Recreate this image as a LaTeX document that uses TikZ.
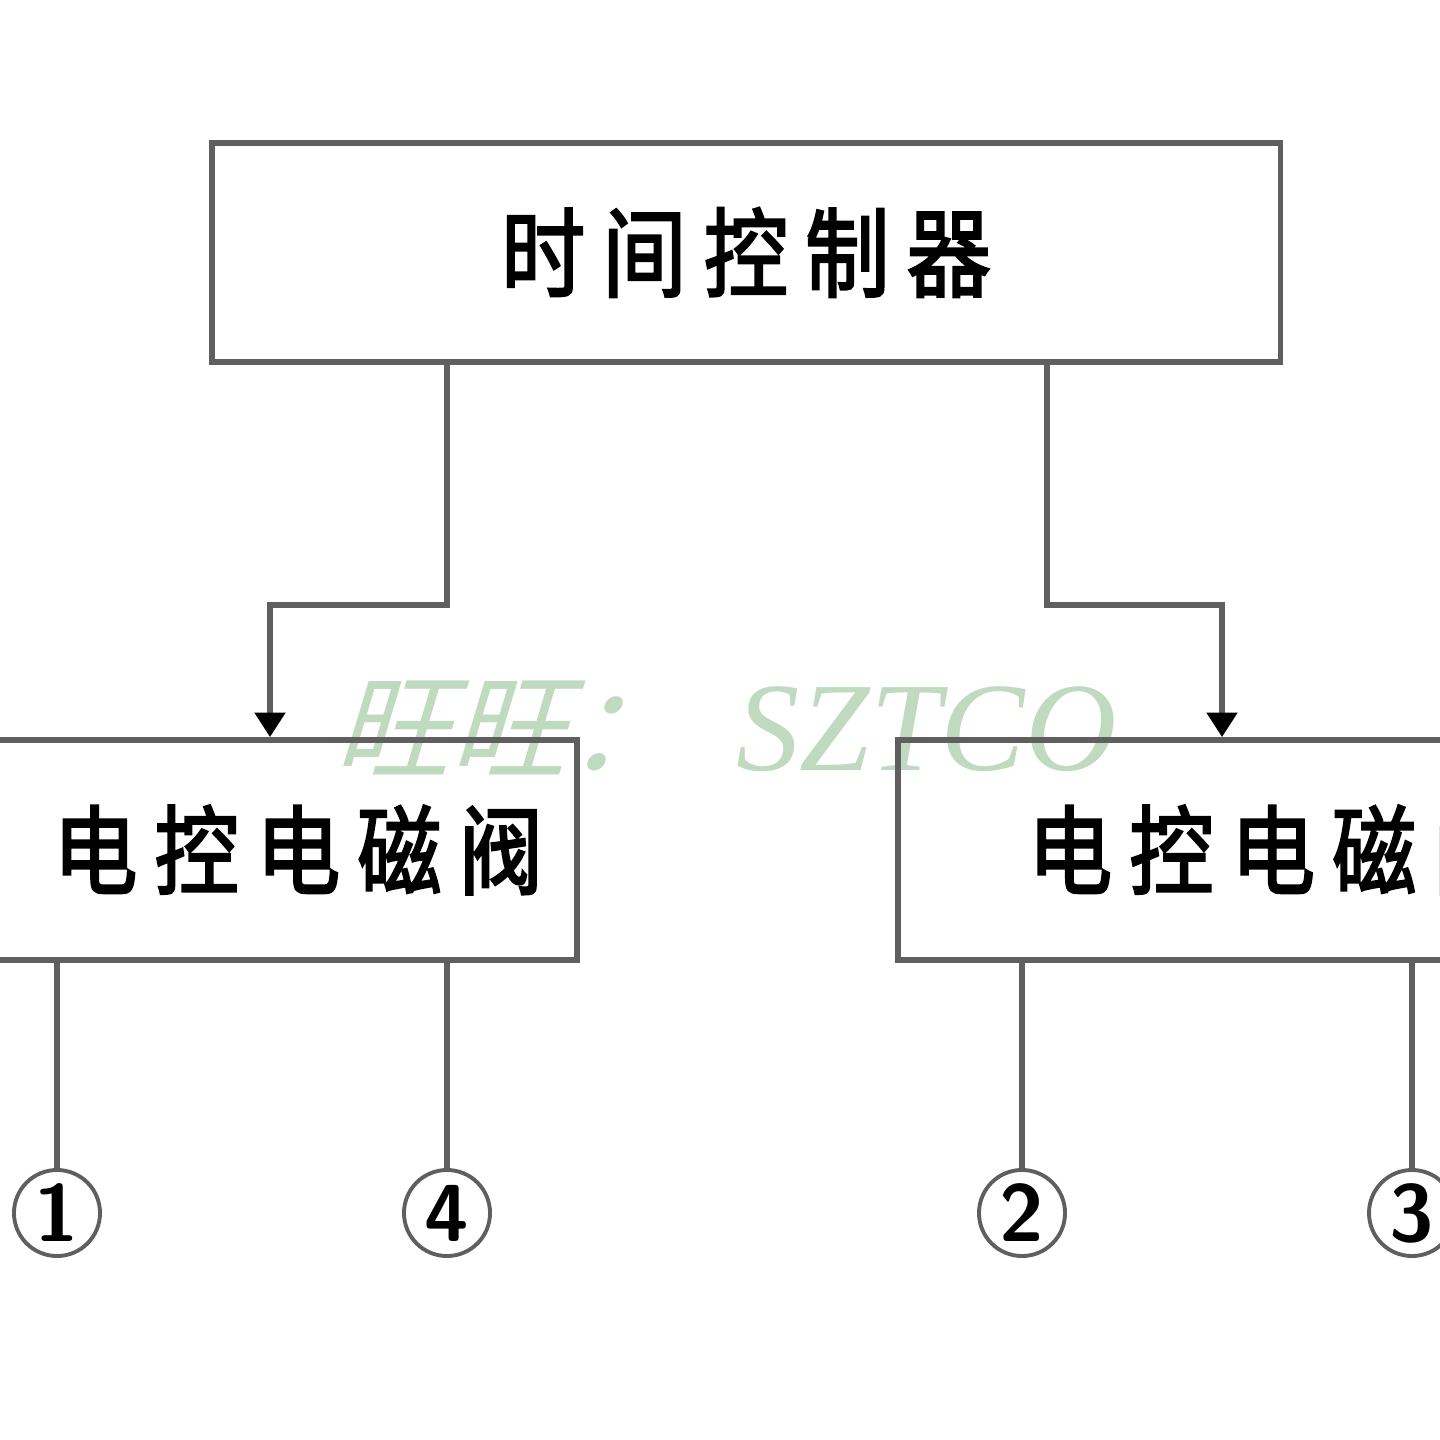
\documentclass[tikz,border=0pt]{standalone}
\usepackage{fontspec}
\usepackage{tikz}
\usetikzlibrary{arrows.meta}
\newfontfamily\cjk[FakeBold=2.5]{Noto Sans CJK SC}
\newfontfamily\cjkslant[FakeSlant=0.3]{Noto Sans CJK SC}
\newfontfamily\markfont{Liberation Serif}
\newcommand{\cgap}{\hspace{0.17cm}}
\newcommand{\tall}[1]{\scalebox{1}[1.15]{#1}}
\definecolor{wiregray}{RGB}{95,95,95}
\definecolor{wmark}{RGB}{192,218,192}

\begin{document}
\begin{tikzpicture}[x=0.01cm, y=0.01cm]
\tikzstyle{every node}+=[inner sep=0pt]
\tikzstyle{blockbox}=[draw=wiregray, line width=1.6pt, rectangle, minimum height=2.2cm, font=\cjk\fontsize{24}{24}\selectfont]
\tikzstyle{wire}=[draw=wiregray, line width=1.6pt]
\tikzstyle{feed}=[wire, -{Triangle[length=7pt,width=8.5pt,color=black]}]
\tikzstyle{pin}=[circle, draw=wiregray, line width=1.1pt, minimum size=0.86cm, font=\sffamily\bfseries\fontsize{23}{23}\selectfont]
\clip (0,0) rectangle (1440,-1440);
\fill [white] (0,0) rectangle (1440,-1440);
% watermark
\node [text=wmark] (mark) at (725,-728) {\cjkslant\fontsize{33}{33}\selectfont 旺旺：\hspace{0.55cm}\markfont\itshape\fontsize{36}{36}\selectfont SZTCO};
% blocks
\node [blockbox, minimum width=10.68cm, minimum height=2.19cm] (timer) at (746,-252.5) {\tall{时\cgap 间\cgap 控\cgap 制\cgap 器}};
\node [blockbox, inner xsep=0.34cm, text width=5.89cm, align=right] (lvalve) at (248.5,-850) {\tall{电\cgap 控\cgap 电\cgap 磁\cgap 阀}};
\node [blockbox, inner xsep=1.3cm, anchor=west] (rvalve) at (895,-850) {\tall{电\cgap 控\cgap 电\cgap 磁\cgap 阀}};
% feeds
\coordinate (lbend) at (447,-605);
\coordinate (rbend) at (1047,-605);
\coordinate (ldrop) at (270,-605);
\coordinate (rdrop) at (1222,-605);
\draw [feed] (timer.south -| lbend) -- (lbend) -- (ldrop) -- (ldrop |- lvalve.north);
\draw [feed] (timer.south -| rbend) -- (rbend) -- (rdrop) -- (rdrop |- rvalve.north);
% ports
\node [pin] (p1) at (57,-1213) {1};
\node [pin] (p4) at (447,-1213) {4};
\node [pin] (p2) at (1022,-1213) {2};
\node [pin] (p3) at (1412,-1213) {3};
\draw [wire] (p1) -- (p1 |- lvalve.south);
\draw [wire] (p4) -- (p4 |- lvalve.south);
\draw [wire] (p2) -- (p2 |- rvalve.south);
\draw [wire] (p3) -- (p3 |- rvalve.south);
\end{tikzpicture}
\end{document}
